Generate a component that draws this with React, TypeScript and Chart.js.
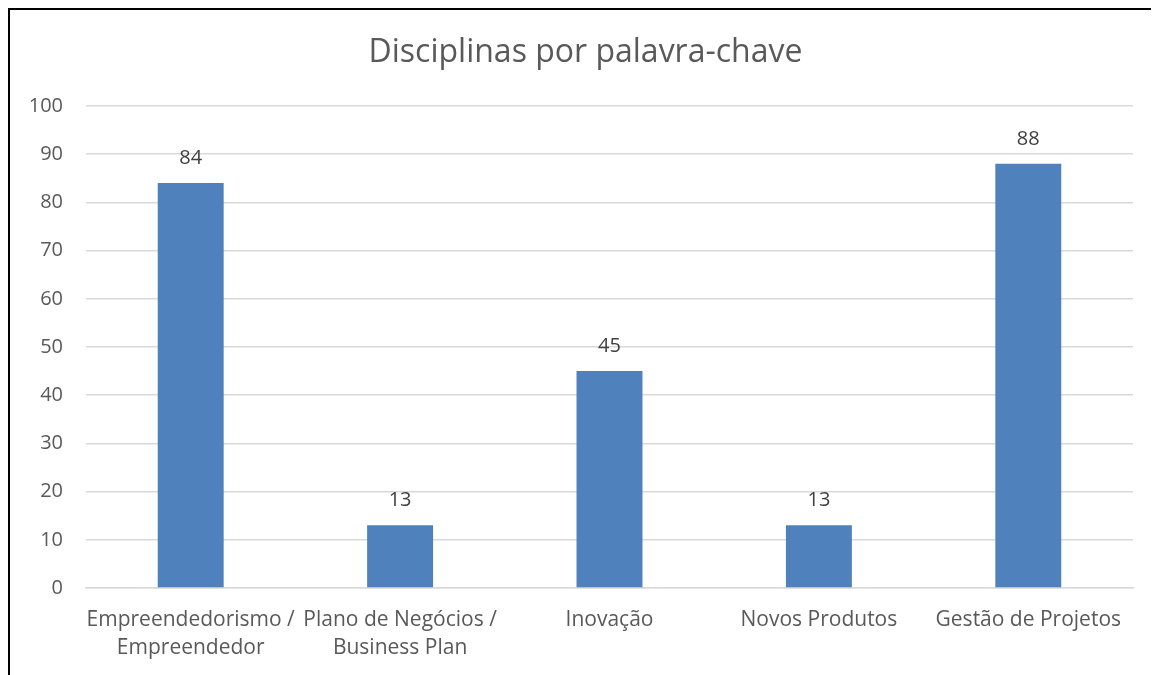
import React, { useEffect, useRef } from "react";
import { Chart, registerables } from "chart.js";

Chart.register(...registerables);

const chartTitle = "Disciplinas por palavra-chave";
const categories: string[][] = [
  ["Empreendedorismo /", "Empreendedor"],
  ["Plano de Negócios /", "Business Plan"],
  ["Inovação"],
  ["Novos Produtos"],
  ["Gestão de Projetos"],
];
const values = [84, 13, 45, 13, 88];
const yMin = 0;
const yMax = 100;
const yStep = 10;

const FONT = "'Open Sans', sans-serif";

const valueLabels = {
  id: "valueLabels",
  afterDatasetsDraw(chart: any) {
    const ctx = chart.ctx;
    const meta = chart.getDatasetMeta(0);
    ctx.save();
    ctx.fillStyle = "#404040";
    ctx.font = `20px ${FONT}`;
    ctx.textAlign = "center";
    ctx.textBaseline = "middle";
    meta.data.forEach((el: any, i: number) => {
      ctx.fillText(String(values[i]), el.x, el.y - 25);
    });
    ctx.restore();
  },
};

const centeredTitle = {
  id: "centeredTitle",
  afterDraw(chart: any) {
    const ctx = chart.ctx;
    ctx.save();
    ctx.fillStyle = "#595959";
    ctx.font = `32px ${FONT}`;
    ctx.textAlign = "center";
    ctx.textBaseline = "middle";
    ctx.fillText(chartTitle, chart.width / 2 + 1, 43);
    ctx.restore();
  },
};

export default function App() {
  const ref = useRef<HTMLCanvasElement>(null);
  useEffect(() => {
    if (!ref.current) return;
    const chart = new Chart(ref.current, {
      type: "bar",
      data: {
        labels: categories,
        datasets: [
          {
            data: values,
            backgroundColor: "#4F81BD",
            barPercentage: 1,
            categoryPercentage: 0.315,
          },
        ],
      },
      options: {
        animation: false,
        responsive: false,
        layout: { padding: { left: 0, right: 26, top: 96, bottom: 0 } },
        plugins: {
          legend: { display: false },
          tooltip: { enabled: false },
          title: { display: false },
        },
        scales: {
          x: {
            grid: { display: false, drawTicks: false },
            border: { display: true, color: "#D9D9D9", width: 1.5 },
            ticks: {
              color: "#595959",
              font: { family: FONT, size: 21, lineHeight: 1.33 },
              padding: 18,
              maxRotation: 0,
              autoSkip: false,
            },
            afterFit: (scale: any) => {
              scale.height = 87;
            },
          },
          y: {
            min: yMin,
            max: yMax,
            border: { display: false },
            grid: { color: "#D9D9D9", lineWidth: 1.5, drawTicks: false },
            ticks: {
              stepSize: yStep,
              color: "#595959",
              font: { family: FONT, size: 20 },
              padding: 23,
            },
            afterFit: (scale: any) => {
              scale.width = 76;
            },
          },
        },
      },
      plugins: [valueLabels, centeredTitle],
    });
    return () => chart.destroy();
  }, []);
  return (
    <div
      style={{
        width: 1149,
        height: 665,
        borderLeft: "2px solid #000",
        borderTop: "2px solid #000",
        background: "#fff",
      }}
    >
      <canvas ref={ref} width={1149} height={665} style={{ display: "block" }} />
    </div>
  );
}
